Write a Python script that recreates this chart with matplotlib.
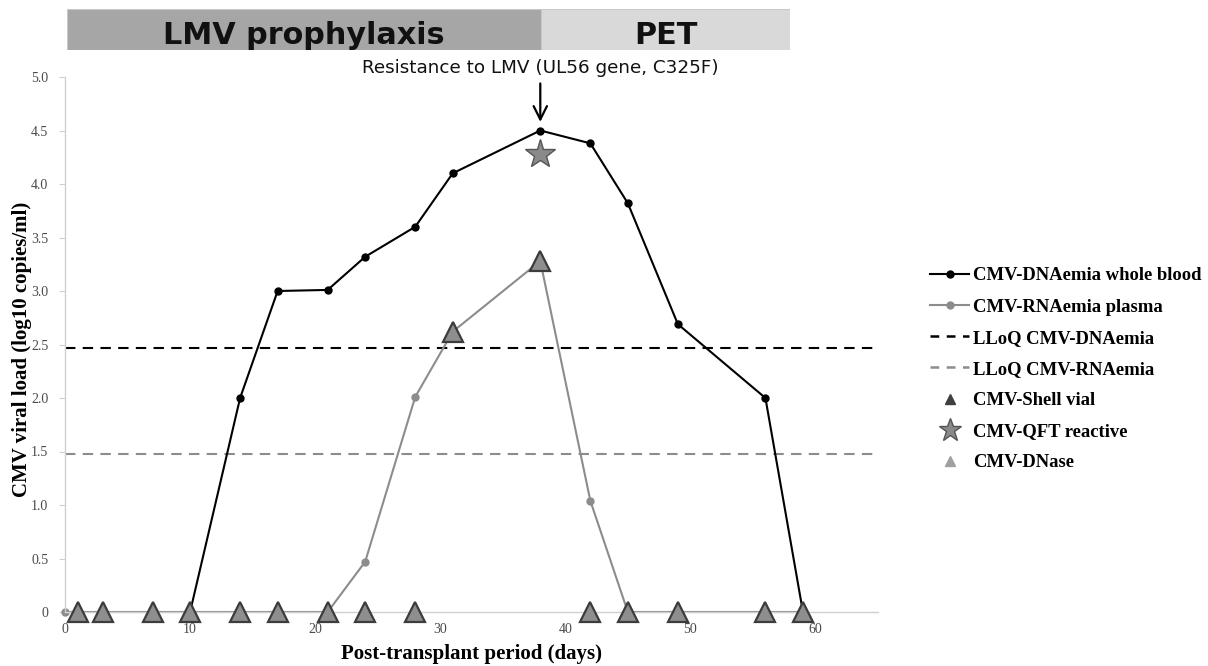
import matplotlib.pyplot as plt
from matplotlib.lines import Line2D
from matplotlib.patches import Rectangle

# --------------------------------------------------------------------------- #
# Data
# --------------------------------------------------------------------------- #
DNA_DAYS = [10, 14, 17, 21, 24, 28, 31, 38, 42, 45, 49, 56, 59]
DNA_LOAD = [0, 2.0, 3.0, 3.01, 3.32, 3.6, 4.1, 4.5, 4.38, 3.82, 2.69, 2.0, 0]

RNA_DAYS = [0, 21, 24, 28, 31, 38, 42, 45, 59]
RNA_LOAD = [0, 0, 0.47, 2.01, 2.62, 3.28, 1.04, 0, 0]

LLOQ_DNA = 2.47
LLOQ_RNA = 1.48

TRI_DAYS = [1, 3, 7, 10, 14, 17, 21, 24, 28, 31, 38, 42, 45, 49, 56, 59]
TRI_LOAD = [0, 0, 0, 0, 0, 0, 0, 0, 0, 2.62, 3.28, 0, 0, 0, 0, 0]

QFT_DAY = [38]
QFT_LOAD = [4.28]

PHASES = ["LMV prophylaxis", "PET"]

X_TICKS = [0, 10, 20, 30, 40, 50, 60]
Y_TICKS = [0, 0.5, 1.0, 1.5, 2.0, 2.5, 3.0, 3.5, 4.0, 4.5, 5.0]
Y_TICK_LABELS = ["0", "0.5", "1.0", "1.5", "2.0", "2.5", "3.0", "3.5", "4.0", "4.5", "5.0"]

BLACK = "#000000"
GREY = "#8c8c8c"
SERIF = ["Liberation Serif", "DejaVu Serif"]
SANS = ["DejaVu Sans"]

# --------------------------------------------------------------------------- #
# Plot
# --------------------------------------------------------------------------- #
W, H = 1208, 666
fig = plt.figure(figsize=(W / 100, H / 100), dpi=100)
ax = fig.add_axes([65 / W, 1 - 612 / H, (878 - 65) / W, (612 - 77) / H])

ax.axhline(LLOQ_DNA, color=BLACK, lw=1.5, ls=(0, (5, 3.5)), zorder=1)
ax.axhline(LLOQ_RNA, color=GREY, lw=1.5, ls=(0, (5, 3.5)), zorder=1)

ax.plot(RNA_DAYS, RNA_LOAD, color=GREY, lw=1.5, marker="o", ms=5, zorder=2,
        clip_on=False)
ax.plot(DNA_DAYS, DNA_LOAD, color=BLACK, lw=1.5, marker="o", ms=5, zorder=3)

# shell vial / DNase triangles (overlapping)
ax.plot(TRI_DAYS, TRI_LOAD, ls="none", marker="^", ms=14, mfc="#8e8e8e",
        mec="#3c3c3c", mew=1.6, zorder=4, clip_on=False)

ax.plot(QFT_DAY, QFT_LOAD, ls="none", marker="*", ms=22, mfc="#8a8a8a",
        mec="#555555", mew=1.0, zorder=5)

ax.set_xlim(0, 65)
ax.set_ylim(0, 5.0)
ax.set_xticks(X_TICKS)
ax.set_yticks(Y_TICKS)
ax.set_yticklabels(Y_TICK_LABELS)
for lab in ax.get_xticklabels() + ax.get_yticklabels():
    lab.set_family(SERIF)
    lab.set_fontsize(10)
    lab.set_color("#4a4a4a")
ax.tick_params(axis="x", length=0, pad=8)
ax.tick_params(axis="y", length=4, color="#d0d0d0", pad=8)

for side in ("top", "right"):
    ax.spines[side].set_visible(False)
for side in ("left", "bottom"):
    ax.spines[side].set_color("#d0d0d0")
    ax.spines[side].set_linewidth(1.0)

ax.set_xlabel("Post-transplant period (days)", family=SERIF, fontsize=15,
              fontweight="bold", labelpad=6)
ax.set_ylabel("CMV viral load (log10 copies/ml)", family=SERIF, fontsize=15,
              fontweight="bold")
ax.yaxis.set_label_coords(-0.041, 0.49)

# phase banner above the axes
bann_ax = fig.add_axes([67 / W, 1 - 50 / H, (790 - 67) / W, 41 / H])
bann_ax.set_xlim(0, 1)
bann_ax.set_ylim(0, 1)
bann_ax.axis("off")
div = (541 - 67) / (790 - 67)
boxes = [(0, div, "#a6a6a6"), (div, 1 - div, "#d9d9d9")]
for (x0, w, col), name in zip(boxes, PHASES):
    rect = Rectangle((x0, 0), w, 1, facecolor=col, edgecolor="#c8c8c8", lw=0.8)
    bann_ax.add_patch(rect)
    t = bann_ax.text(x0 + w / 2, 6 / 41, name, ha="center", va="baseline",
                     family=SANS, fontsize=21.8, fontweight="bold", color="#111111")
    t.set_clip_on(True)
    t.set_clip_path(rect)

# resistance annotation
ax.annotate("", xy=(38, 4.58), xytext=(38, 4.94), annotation_clip=False,
            arrowprops=dict(arrowstyle="->", color=BLACK, lw=1.6,
                            mutation_scale=24, shrinkA=0, shrinkB=0))
ax.text(38, 5.085, "Resistance to LMV (UL56 gene, C325F)", ha="center",
        va="center", family=SANS, fontsize=13.2, color="#111111")

handles = [
    Line2D([], [], color=BLACK, lw=1.5, marker="o", ms=5),
    Line2D([], [], color=GREY, lw=1.5, marker="o", ms=5),
    Line2D([], [], color=BLACK, lw=1.8, ls=(0, (3.5, 3))),
    Line2D([], [], color=GREY, lw=1.8, ls=(0, (3.5, 3))),
    Line2D([], [], ls="none", marker="^", ms=7, color="#3f3f3f"),
    Line2D([], [], ls="none", marker="*", ms=17, mfc="#8a8a8a", mec="#555555"),
    Line2D([], [], ls="none", marker="^", ms=7, color="#a0a0a0"),
]
labels = ["CMV-DNAemia whole blood", "CMV-RNAemia plasma", "LLoQ CMV-DNAemia",
          "LLoQ CMV-RNAemia", "CMV-Shell vial", "CMV-QFT reactive", "CMV-DNase"]
fig.legend(handles, labels, loc="upper left", bbox_to_anchor=(921 / W, 1 - 258 / H),
           frameon=False, prop=dict(family=SERIF, size=13.4, weight="bold"),
           handlelength=2.1, handletextpad=0.2, labelspacing=0.76, borderpad=0)

fig.savefig("out.png", dpi=100)
